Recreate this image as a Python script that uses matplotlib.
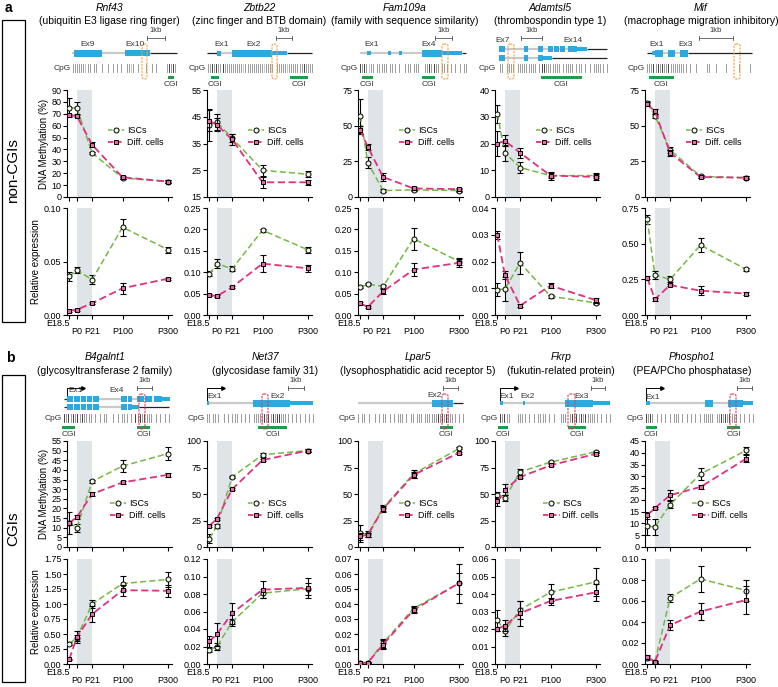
import numpy as np
import matplotlib.pyplot as plt
from matplotlib.patches import Rectangle, FancyBboxPatch
from matplotlib.lines import Line2D

plt.rcParams['font.family'] = ['Liberation Sans', 'DejaVu Sans']

W, H = 778, 687

# time points and their spacing on the x axis
stages = ['E18.5', 'P0', 'P21', 'P100', 'P300']
stage_x = [0, 0.5, 1.5, 3.5, 6.5]

genes_a = ['Rnf43', 'Zbtb22', 'Fam109a', 'Adamtsl5', 'Mif']
desc_a = ['(ubiquitin E3 ligase ring finger)', '(zinc finger and BTB domain)',
          '(family with sequence similarity)', '(thrombospondin type 1)',
          '(macrophage migration inhibitory)']
genes_b = ['B4galnt1', 'Net37', 'Lpar5', 'Fkrp', 'Phospho1']
desc_b = ['(glycosyltransferase 2 family)', '(glycosidase family 31)',
          '(lysophosphatidic acid receptor 5)', '(fukutin-related protein)',
          '(PEA/PCho phosphatase)']

# ---- panel a (non-CGIs) ----
meth_isc_a = [[75, 75, 37, 16, 13], [42, 43, 37, 25, 23.5], [57, 24, 4.5, 5, 4.5],
              [31, 16.5, 11, 8, 8], [66, 57, 33, 14.5, 13.5]]
meth_isc_a_err = [[8, 5, 1, 1, 1], [6, 3, 1.5, 2, 1.2], [12, 4, 1, 1, 1],
                  [3.5, 3, 2, 1, 1], [1.5, 1.5, 2, 1, 1]]
meth_diff_a = [[69, 68, 44, 16.5, 13], [43.5, 42, 36.5, 20.5, 20.5], [47, 35, 14, 6, 5.5],
               [20, 21, 16.5, 8, 7.5], [65, 60, 31, 14, 13.5]]
meth_diff_a_err = [[1, 1, 2, 1, 1], [4, 2.5, 2, 2, 1], [3, 2, 3, 1, 1],
                   [4.5, 2, 2, 1.5, 1], [1.5, 1.5, 2, 1, 1]]
expr_isc_a = [[0.036, 0.042, 0.033, 0.082, 0.061], [0.096, 0.12, 0.108, 0.198, 0.152],
              [0.065, 0.072, 0.067, 0.178, 0.125], [0.0095, 0.0097, 0.0195, 0.007, 0.0045],
              [0.67, 0.28, 0.25, 0.49, 0.32]]
expr_isc_a_err = [[0.004, 0.003, 0.004, 0.008, 0.003], [0.006, 0.01, 0.006, 0.004, 0.007],
                  [0.003, 0.003, 0.004, 0.025, 0.008], [0.0025, 0.0045, 0.004, 0.0005, 0.0005],
                  [0.03, 0.03, 0.02, 0.05, 0.01]]
expr_diff_a = [[0.004, 0.005, 0.011, 0.025, 0.034], [0.047, 0.044, 0.065, 0.12, 0.109],
               [0.027, 0.019, 0.055, 0.106, 0.122], [0.030, 0.015, 0.0035, 0.011, 0.0055],
               [0.26, 0.11, 0.21, 0.17, 0.15]]
expr_diff_a_err = [[0.001, 0.001, 0.001, 0.005, 0.001], [0.003, 0.003, 0.003, 0.02, 0.008],
                   [0.003, 0.003, 0.005, 0.016, 0.01], [0.0015, 0.0015, 0.0005, 0.001, 0.001],
                   [0.01, 0.01, 0.01, 0.03, 0.01]]

# ---- panel b (CGIs) ----
meth_isc_b = [[12.5, 10, 34, 42, 48.5], [8, 19.5, 66, 87, 91], [13, 12, 37, 69, 93],
              [49, 46, 71, 80, 90], [9, 8.5, 18, 31, 41]]
meth_isc_b_err = [[5.5, 2, 1, 3, 3.5], [4, 2, 1, 2, 1], [8, 3, 3, 4, 1],
                  [3, 3, 3, 1, 1], [4, 3.5, 1.5, 2.5, 1.5]]
meth_diff_b = [[12.5, 15.5, 27.5, 33.5, 37.5], [20, 26.5, 54.5, 82, 91], [10, 11.5, 36, 68, 89],
               [43, 54, 66, 77, 88], [13.5, 16.5, 22, 25.5, 37.5]]
meth_diff_b_err = [[1, 1, 1, 1, 1], [1, 1, 1, 1, 1], [3, 2, 3, 3, 1],
                   [4, 5, 1, 1, 1], [1.5, 0.5, 2, 1, 1.5]]
expr_isc_b = [[0.34, 0.44, 1.00, 1.34, 1.41], [0.016, 0.020, 0.048, 0.081, 0.086],
              [0.001, 0.001, 0.014, 0.037, 0.054], [0.025, 0.019, 0.031, 0.041, 0.047],
              [0.006, 0.002, 0.063, 0.081, 0.070]]
expr_isc_b_err = [[0.03, 0.05, 0.07, 0.13, 0.13], [0.002, 0.004, 0.004, 0.005, 0.007],
                  [0.0005, 0.0005, 0.003, 0.002, 0.013], [0.006, 0.003, 0.005, 0.005, 0.008],
                  [0.002, 0.001, 0.004, 0.012, 0.01]]
expr_diff_b = [[0.08, 0.45, 0.83, 1.23, 1.22], [0.026, 0.034, 0.058, 0.085, 0.087],
               [0.0005, 0.001, 0.013, 0.036, 0.054], [0.020, 0.022, 0.029, 0.036, 0.041],
               [0.007, 0.002, 0.037, 0.050, 0.061]]
expr_diff_b_err = [[0.01, 0.1, 0.13, 0.09, 0.1], [0.006, 0.013, 0.012, 0.01, 0.011],
                   [0.0005, 0.0005, 0.003, 0.002, 0.007], [0.001, 0.003, 0.007, 0.002, 0.005],
                   [0.002, 0.001, 0.005, 0.008, 0.013]]

# y axis ranges (min, max, step)
meth_ticks_a = [(0, 90, 10), (15, 55, 10), (0, 75, 25), (0, 40, 10), (0, 75, 25)]
expr_ticks_a = [(0, 0.10, 0.05), (0, 0.25, 0.05), (0, 0.25, 0.05), (0, 0.04, 0.01), (0, 0.75, 0.25)]
meth_ticks_b = [(0, 55, 5), (0, 100, 25), (0, 100, 25), (0, 100, 25), (0, 45, 5)]
expr_ticks_b = [(0, 1.75, 0.25), (0, 0.12, 0.02), (0, 0.07, 0.01), (0, 0.06, 0.01), (0, 0.10, 0.02)]

# ---- gene models (pixels from column left / top of the strip) ----
gene_lines = {
    'Rnf43': [(5, 7, 25, 'g'), (35, 58, 25, 'g'), (83, 110, 25, 'k')],
    'Zbtb22': [(0, 10, 25, 'k'), (14, 25, 25, 'g'), (80, 105, 25, 'k')],
    'Fam109a': [(2, 64, 25, 'g'), (104, 108, 25, 'k')],
    'Adamtsl5': [(4, 82, 21, 'g'), (92, 112, 21, 'k'), (4, 48, 30, 'g'), (57, 112, 30, 'k')],
    'Mif': [(2, 7, 25, 'k'), (18, 23, 25, 'g'), (30, 35, 25, 'g'), (43, 107, 25, 'k')],
    'B4galnt1': [(-3, 0, 21, 'k'), (32, 54, 21, 'g'), (65, 70, 21, 'g'),
                 (-3, 0, 29, 'k'), (32, 54, 29, 'g'), (72, 102, 29, 'k')],
    'Net37': [(2, 46, 25, 'g')],
    'Lpar5': [(0, 74, 25, 'g'), (95, 105, 25, 'k')],
    'Fkrp': [(8, 28, 25, 'g'), (30, 70, 25, 'g')],
    'Phospho1': [(5, 60, 25, 'g'), (68, 83, 25, 'g')],
}
gene_exons = {
    'Rnf43': [(7, 35, 25, 7), (58, 83, 25, 6)],
    'Zbtb22': [(10, 14, 25, 5), (25, 65, 25, 7), (65, 80, 25, 4)],
    'Fam109a': [(9, 13, 25, 4), (30, 33, 25, 4), (41, 44, 25, 4), (64, 84, 25, 7), (84, 104, 25, 4)],
    'Adamtsl5': [(4, 10, 21, 6), (29, 33, 21, 6), (43, 48, 21, 6), (53, 58, 21, 6), (59, 64, 21, 6),
                 (65, 70, 21, 6), (73, 82, 21, 6), (82, 92, 21, 4),
                 (4, 10, 30, 6), (29, 33, 30, 6), (43, 48, 30, 6), (48, 57, 30, 4)],
    'Mif': [(7, 10, 25, 4), (10, 18, 25, 7), (23, 30, 25, 7), (35, 43, 25, 7)],
    'B4galnt1': [(0, 6, 21, 6), (7, 13, 21, 6), (14, 19, 21, 6), (20, 25, 21, 6), (26, 32, 21, 6),
                 (54, 60, 21, 6), (61, 65, 21, 6), (70, 77, 21, 6), (78, 85, 21, 6), (87, 95, 21, 6),
                 (95, 103, 21, 4),
                 (0, 6, 29, 6), (7, 13, 29, 6), (14, 19, 29, 6), (20, 25, 29, 6), (26, 32, 29, 6),
                 (54, 60, 29, 6), (61, 65, 29, 6), (65, 72, 29, 4)],
    'Net37': [(0, 2, 25, 4), (46, 83, 25, 7), (83, 106, 25, 4)],
    'Lpar5': [(74, 95, 25, 7)],
    'Fkrp': [(5, 8, 25, 4), (28, 30, 25, 4), (70, 98, 25, 7), (98, 115, 25, 4)],
    'Phospho1': [(1, 5, 25, 4), (60, 68, 25, 7), (83, 98, 25, 7), (98, 108, 25, 4)],
}
exon_labels = {
    'Rnf43': [('Ex9', 21, 17), ('Ex10', 68, 17)],
    'Zbtb22': [('Ex1', 15, 17), ('Ex2', 47, 17)],
    'Fam109a': [('Ex1', 14, 17), ('Ex4', 71, 17)],
    'Adamtsl5': [('Ex7', 8, 12), ('Ex14', 78, 12)],
    'Mif': [('Ex1', 12, 17), ('Ex3', 41, 17)],
    'B4galnt1': [('Ex1', 9, 12), ('Ex4', 50, 12)],
    'Net37': [('Ex1', 8, 18), ('Ex2', 71, 18)],
    'Lpar5': [('Ex2', 77, 17)],
    'Fkrp': [('Ex1', 12, 18), ('Ex2', 33, 18), ('Ex3', 87, 18)],
    'Phospho1': [('Ex1', 8, 19)],
}
scale_bars = {'Rnf43': (80, 98), 'Zbtb22': (69, 85), 'Fam109a': (77, 94), 'Adamtsl5': (26, 47),
              'Mif': (54, 88), 'B4galnt1': (70, 85), 'Net37': (81, 97), 'Lpar5': (85, 100),
              'Fkrp': (96, 110), 'Phospho1': (92, 107)}
amplicons = {'Rnf43': (75, 80), 'Zbtb22': (65, 70), 'Fam109a': (84, 90), 'Adamtsl5': (13, 19),
             'Mif': (89, 95), 'B4galnt1': (72, 78), 'Net37': (55, 61), 'Lpar5': (84, 90),
             'Fkrp': (73, 80), 'Phospho1': (85, 91)}
cgis = {'Rnf43': [(101, 107)], 'Zbtb22': [(4, 12), (83, 101)], 'Fam109a': [(4, 15), (64, 77)],
        'Adamtsl5': [(46, 87)], 'Mif': [(4, 29)], 'B4galnt1': [(-5, 8), (70, 83)],
        'Net37': [(51, 80)], 'Lpar5': [(82, 95)], 'Fkrp': [(3, 13), (73, 91)],
        'Phospho1': [(1, 12), (82, 95)]}
tss = {'B4galnt1': (0, 21), 'Net37': (0, 25), 'Fkrp': (5, 25), 'Phospho1': (1, 25)}
cpg_span = {'Rnf43': (6, 108), 'Zbtb22': (1, 105), 'Fam109a': (2, 108), 'Adamtsl5': (3, 112),
            'Mif': (2, 107), 'B4galnt1': (-3, 102), 'Net37': (0, 106), 'Lpar5': (0, 105),
            'Fkrp': (5, 115), 'Phospho1': (1, 108)}
cpg_marks = {
    'Rnf43':    '||||||:|| ||  |  | | | |  ||:| |   |  | |    |#|#|',
    'Zbtb22':   '||#|#||#|||||||||:|||||||||:|||| |||||:|||||||#||||',
    'Fam109a':  '#|#|:|| ||||| ||| |  ||| |||  ||#|#|| ||| | | | ||',
    'Adamtsl5': ' || |||| ||||||||| |##||||||| ||||| ||| | | ||||| |',
    'Mif':      '|||#|#|#||#|||||||| |  |    ||  |    |     |    | ',
    'B4galnt1': '#|#|#|#|#|||| | | ||  | | ||| | #|#|#||| | | | |',
    'Net37':    '|| |||  | | ||| | | | |||||#|#|#|##|||| | | | | | |',
    'Lpar5':    '| || |  | | || | | ||| | || ||| ||||||#|#|#|||| | |',
    'Fkrp':     '#|#||   |||| | | |||| | |  ||| |#|#|#|#||||| | | |',
    'Phospho1': '#|#| | | | | ||| | | | | | ||||| ||#|#|#||| | | | |',
}

# ---- layout in pixels ----
col_left = [67, 207, 358, 495, 645]
col_w = 105
title_x_a = [109, 259, 405, 550, 701]
title_x_b = [105, 265, 418, 561, 692]

green, magenta = '#74b944', '#e0307f'
blue = '#29abe2'


def px_axes(fig, left, top, width, height):
    return fig.add_axes([left / W, 1 - (top + height) / H, width / W, height / H])


def draw_gene(ax, g, amp_color):
    ax.set_xlim(0, col_w)
    ax.set_ylim(60, 0)
    ax.axis('off')
    for x0, x1, y, kind in gene_lines[g]:
        if kind == 'g':
            ax.plot([x0, x1], [y, y], color='#c9c9c9', lw=1.6, solid_capstyle='butt', clip_on=False)
        else:
            ax.plot([x0, x1], [y, y], color='#222222', lw=0.9, solid_capstyle='butt', clip_on=False)
    for x0, x1, y, h in gene_exons[g]:
        ax.add_patch(Rectangle((x0, y - h / 2), x1 - x0, h, color=blue, lw=0, clip_on=False, zorder=3))
    for txt, x, y in exon_labels[g]:
        ax.text(x, y, txt, fontsize=6, ha='center', va='center', color='#333333', clip_on=False)
    if g in tss:
        x, y = tss[g]
        ax.plot([x, x, x + 16], [y, 10, 10], color='k', lw=0.7, clip_on=False)
        ax.plot(x + 16, 10, marker='>', ms=2.5, color='k', clip_on=False)
    s0, s1 = scale_bars[g]
    ax.plot([s0, s1], [10, 10], color='#555555', lw=0.6, clip_on=False)
    ax.plot([s0, s0], [8, 12], color='#555555', lw=0.6, clip_on=False)
    ax.plot([s1, s1], [8, 12], color='#555555', lw=0.6, clip_on=False)
    ax.text((s0 + s1) / 2, 6, '1kb', fontsize=5.5, ha='center', va='bottom', color='#333333', clip_on=False)
    c0, c1 = cpg_span[g]
    marks = cpg_marks[g]
    xs = np.linspace(c0, c1, len(marks))
    shade = {'|': '#8a8a8a', '#': '#222222', ':': '#bdbdbd'}
    for x, ch in zip(xs, marks):
        if ch in shade:
            ax.plot([x, x], [36, 44], color=shade[ch], lw=0.6, clip_on=False)
    ax.text(c0 - 2, 40, 'CpG', fontsize=6, ha='right', va='center', color='#333333', clip_on=False)
    for x0, x1 in cgis[g]:
        ax.add_patch(Rectangle((x0, 47.5), x1 - x0, 3, color='#1d9e4a', lw=0, clip_on=False))
        ax.text((x0 + x1) / 2, 56, 'CGI', fontsize=6, ha='center', va='center', color='#333333', clip_on=False)
    a0, a1 = amplicons[g]
    ax.add_patch(FancyBboxPatch((a0, 16), a1 - a0, 35, boxstyle='round,pad=0,rounding_size=2',
                                fill=False, ec=amp_color, lw=0.8, ls=(0, (2, 1)), clip_on=False, zorder=5))


def style_axes(ax, ticks, fmt):
    lo, hi, step = ticks
    ax.set_ylim(lo, hi)
    ax.set_yticks(np.arange(lo, hi + step / 2, step))
    ax.set_yticklabels([fmt % v for v in np.arange(lo, hi + step / 2, step)])
    ax.set_xlim(-0.15, 6.75)
    ax.set_xticks(stage_x)
    for s in ['top', 'right']:
        ax.spines[s].set_visible(False)
    for s in ['left', 'bottom']:
        ax.spines[s].set_linewidth(0.8)
    ax.tick_params(direction='out', length=3, width=0.8, labelsize=6.5, pad=1)


def draw_series(ax, isc, isc_err, diff, diff_err):
    ax.axvspan(0.5, 1.5, color='#dfe4e9', lw=0, zorder=0)
    ax.errorbar(stage_x, isc, yerr=isc_err, fmt='none', ecolor='k', elinewidth=0.8,
                capsize=2, capthick=0.8, zorder=2)
    ax.plot(stage_x, isc, ls=(0, (4, 2)), color=green, lw=1.1, marker='o', ms=3.6,
            mfc='#eef7e2', mec='k', mew=0.7, zorder=3)
    ax.errorbar(stage_x, diff, yerr=diff_err, fmt='none', ecolor='k', elinewidth=0.8,
                capsize=2, capthick=0.8, zorder=4)
    ax.plot(stage_x, diff, ls=(0, (4, 2)), color=magenta, lw=1.3, marker='s', ms=3.4,
            mfc='#e46aa6', mec='k', mew=0.7, zorder=5)


legend_handles = [
    Line2D([], [], ls=(0, (3, 1.5)), color=green, lw=1.1, marker='o', ms=3.6, mfc='#eef7e2', mec='k', mew=0.7),
    Line2D([], [], ls=(0, (3, 1.5)), color=magenta, lw=1.3, marker='s', ms=3.4, mfc='#e46aa6', mec='k', mew=0.7),
]

fig = plt.figure(figsize=(W / 100, H / 100), dpi=100)

panels = [
    dict(genes=genes_a, desc=desc_a, tx=title_x_a, name_y=8, desc_y=21, diag_top=28,
         meth=(90, 197), expr=(208, 315), amp='#f5a142',
         mi=meth_isc_a, mie=meth_isc_a_err, md=meth_diff_a, mde=meth_diff_a_err,
         ei=expr_isc_a, eie=expr_isc_a_err, ed=expr_diff_a, ede=expr_diff_a_err,
         mt=meth_ticks_a, et=expr_ticks_a, leg_x=[0.39] * 5, leg_y=0.565),
    dict(genes=genes_b, desc=desc_b, tx=title_x_b, name_y=357, desc_y=371, diag_top=378,
         meth=(441, 547), expr=(559, 664), amp='#e23a55',
         mi=meth_isc_b, mie=meth_isc_b_err, md=meth_diff_b, mde=meth_diff_b_err,
         ei=expr_isc_b, eie=expr_isc_b_err, ed=expr_diff_b, ede=expr_diff_b_err,
         mt=meth_ticks_b, et=expr_ticks_b, leg_x=[0.41, 0.39, 0.39, 0.46, 0.45], leg_y=0.35),
]

for p in panels:
    for i, g in enumerate(p['genes']):
        left = col_left[i]
        fig.text(p['tx'][i] / W, 1 - p['name_y'] / H, g, style='italic', fontsize=7.5,
                 ha='center', va='center')
        fig.text(p['tx'][i] / W, 1 - p['desc_y'] / H, p['desc'][i], fontsize=7.5,
                 ha='center', va='center')
        dax = px_axes(fig, left, p['diag_top'], col_w, 60)
        draw_gene(dax, g, p['amp'])

        t, b = p['meth']
        axm = px_axes(fig, left, t, col_w, b - t)
        draw_series(axm, p['mi'][i], p['mie'][i], p['md'][i], p['mde'][i])
        style_axes(axm, p['mt'][i], '%d')
        axm.set_xticklabels([])
        axm.legend(legend_handles, ['ISCs', 'Diff. cells'], frameon=False, fontsize=6.5,
                   loc='center left', bbox_to_anchor=(p['leg_x'][i], p['leg_y']),
                   handlelength=1.8, handletextpad=0.3, labelspacing=0.35,
                   borderaxespad=0, borderpad=0)

        t, b = p['expr']
        axe = px_axes(fig, left, t, col_w, b - t)
        draw_series(axe, p['ei'][i], p['eie'][i], p['ed'][i], p['ede'][i])
        style_axes(axe, p['et'][i], '%.2f')
        axe.set_xticklabels([stages[0]] + ['\n' + s for s in stages[1:]])
        for k, lab in enumerate(axe.get_xticklabels()):
            lab.set_linespacing(0.85)
            if k == 0:
                lab.set_ha('right')
        axe.tick_params(axis='x', pad=0)

        if i == 0:
            axm.set_ylabel('DNA Methylation (%)', fontsize=7, labelpad=2)
            axe.set_ylabel('Relative expression', fontsize=7, labelpad=2)

# side boxes and panel letters
for top, bot, label in [(20, 322, 'non-CGIs'), (375, 682, 'CGIs')]:
    fig.patches.append(Rectangle((2 / W, 1 - bot / H), 23 / W, (bot - top) / H,
                                 transform=fig.transFigure, fill=False, ec='k', lw=0.9))
    fig.text(13.5 / W, 1 - (top + bot) / 2 / H, label, rotation=90, fontsize=11,
             ha='center', va='center')
fig.text(5 / W, 1 - 8 / H, 'a', fontsize=10, fontweight='bold', ha='left', va='center')
fig.text(6 / W, 1 - 358 / H, 'b', fontsize=10, fontweight='bold', ha='left', va='center')

fig.savefig('out.png', dpi=100)
